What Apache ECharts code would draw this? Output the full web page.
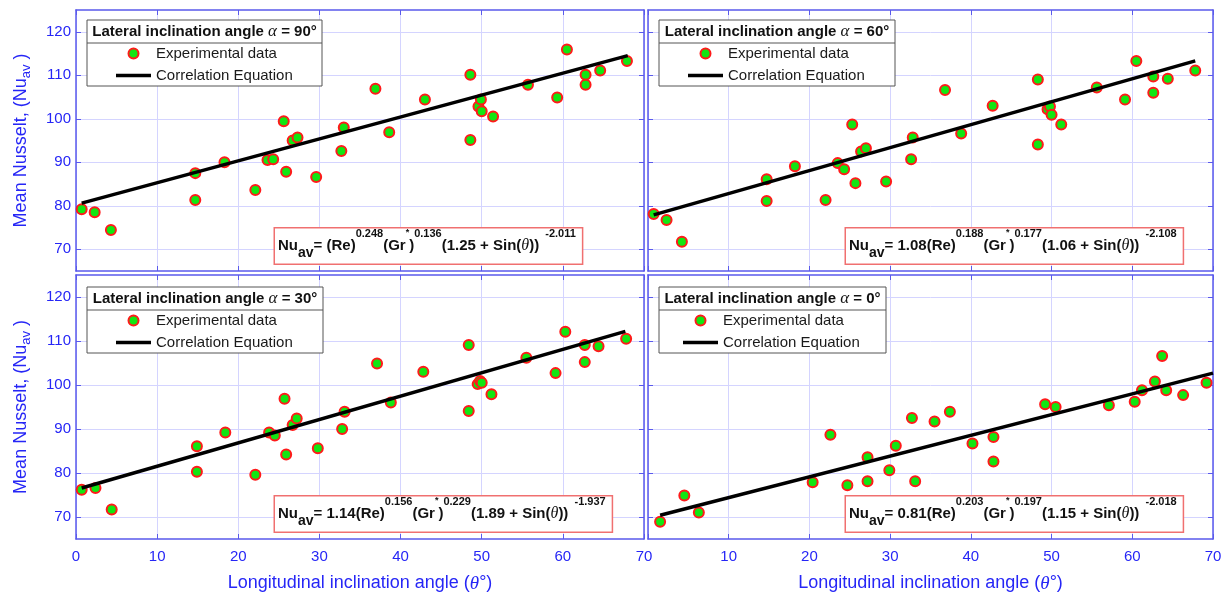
<!DOCTYPE html>
<html><head><meta charset="utf-8">
<script src="https://cdn.jsdelivr.net/npm/echarts@6/dist/echarts.min.js"></script>
<style>html,body{margin:0;padding:0;background:#fff}#c{width:1226px;height:596px}</style>
</head><body><div id="c"></div>
<script>
// ---------- data ----------
const xTicks = [0, 10, 20, 30, 40, 50, 60, 70];
const yTicks = [70, 80, 90, 100, 110, 120];

const exp90 = [[0.7,79.2],[2.3,78.5],[4.3,74.4],[14.7,87.5],[14.7,81.3],[18.3,90.0],[22.1,83.6],[23.6,90.5],[24.3,90.7],[25.6,99.4],[25.9,87.8],[26.7,95.0],[27.3,95.7],[29.6,86.6],[32.7,92.6],[33.0,98.0],[36.9,106.9],[38.6,96.9],[43.0,104.4],[48.6,110.1],[48.6,95.1],[49.6,102.8],[49.9,104.4],[50.0,101.7],[51.4,100.5],[55.7,107.8],[59.3,104.9],[60.5,115.9],[62.8,110.1],[62.8,107.8],[64.6,111.1],[67.9,113.3]];
const fit90 = [[0.7,80.6],[68.0,114.5]];

const exp60 = [[0.7,78.1],[2.3,76.7],[4.2,71.7],[14.7,86.1],[14.7,81.1],[18.2,89.1],[22.0,81.3],[23.5,89.8],[24.3,88.4],[25.3,98.7],[25.7,85.2],[26.4,92.5],[27.0,93.2],[29.5,85.6],[32.6,90.7],[32.8,95.7],[36.8,106.6],[38.8,96.6],[42.7,103.0],[48.3,109.0],[48.3,94.1],[49.5,102.2],[49.8,102.8],[50.0,100.9],[51.2,98.7],[55.6,107.2],[59.1,104.4],[60.5,113.3],[62.6,109.7],[62.6,106.0],[64.4,109.2],[67.8,111.1]];
const fit60 = [[0.7,77.9],[67.8,113.3]];

const exp30 = [[0.7,76.2],[2.4,76.6],[4.4,71.7],[14.9,86.1],[14.9,80.3],[18.4,89.2],[22.1,79.6],[23.8,89.2],[24.5,88.5],[25.7,96.9],[25.9,84.2],[26.7,90.9],[27.2,92.4],[29.8,85.6],[32.8,90.0],[33.1,93.9],[37.1,104.9],[38.8,96.0],[42.8,103.0],[48.4,109.1],[48.4,94.1],[49.5,100.2],[49.8,100.9],[50.0,100.5],[51.2,97.9],[55.5,106.2],[59.1,102.7],[60.3,112.1],[62.7,109.1],[62.7,105.2],[64.4,108.8],[67.8,110.5]];
const fit30 = [[0.7,76.6],[67.7,112.2]];

const exp0 = [[1.5,68.9],[4.5,74.9],[6.3,71.0],[20.4,77.9],[22.6,88.7],[24.7,77.2],[27.2,83.6],[27.2,78.1],[29.9,80.6],[30.7,86.2],[32.7,92.5],[33.1,78.1],[35.5,91.7],[37.4,93.9],[40.2,86.7],[42.8,88.2],[42.8,82.6],[49.2,95.6],[50.5,95.0],[57.1,95.4],[60.3,96.2],[61.2,98.8],[62.8,100.8],[63.7,106.6],[64.2,98.8],[66.3,97.7],[69.2,100.5]];
const fit0 = [[1.5,70.4],[70.0,102.7]];

const alphaLabels = ['90°', '60°', '30°', '0°'];
const eqCoef = ['', '1.08', '1.14', '0.81'];
const eqReExp = ['0.248', '0.188', '0.156', '0.203'];
const eqGrExp = ['0.136', '0.177', '0.229', '0.197'];
const eqConst = ['1.25', '1.06', '1.89', '1.15'];
const eqOuterExp = ['-2.011', '-2.108', '-1.937', '-2.018'];
const seriesNames = ['Experimental data', 'Correlation Equation'];
const xTitle = 'Longitudinal inclination angle';
const yTitle = 'Mean Nusselt, (Nu';

// ---------- layout / style ----------
const expSets = [exp90, exp60, exp30, exp0];
const fitSets = [fit90, fit60, fit30, fit0];
const F = "'Liberation Sans', Arial, Helvetica, sans-serif";
const SERIF = "'Liberation Serif', 'DejaVu Serif', serif";
const AX = '#5a5aec';
const LBL = '#2626f6';
const GRIDC = '#d4d4ff';
const grids = [
  {left: 76, top: 10, width: 568, height: 261},
  {left: 648, top: 10, width: 565, height: 261},
  {left: 76, top: 275, width: 568, height: 264},
  {left: 648, top: 275, width: 565, height: 264}
];
const legBox = [
  {x: 87, y: 20, w: 235, h: 66, sep: 43},
  {x: 659, y: 20, w: 236, h: 66, sep: 43},
  {x: 87, y: 287, w: 236, h: 66, sep: 310},
  {x: 659, y: 287, w: 227, h: 66, sep: 310}
];
const legItemsPos = [
  {left: 116, top: 46},
  {left: 688, top: 46},
  {left: 116, top: 313},
  {left: 683, top: 313}
];
const eqPos = [
  {x: 275, y: 246}, {x: 846, y: 246}, {x: 275, y: 514}, {x: 846, y: 514}
];

const xAxes = [], yAxes = [], series = [], legends = [], graphics = [];

for (let p = 0; p < 4; p++) {
  const bottom = p >= 2, left = (p % 2 === 0);
  xAxes.push({
    type: 'value', gridIndex: p, min: 0, max: 70, interval: 10, position: 'bottom',
    axisLine: {show: true, onZero: false, lineStyle: {color: AX, width: 1.5}},
    axisTick: {show: true, inside: true, length: 5, lineStyle: {color: AX, width: 1}},
    axisLabel: {show: bottom, color: LBL, fontSize: 15, fontFamily: F, margin: 10,
      customValues: p === 3 ? xTicks.slice(1) : xTicks},
    splitLine: {show: true, lineStyle: {color: GRIDC, width: 1}},
    name: bottom ? '{n|' + xTitle + ' (}{t|θ}{n|°)}' : '',
    nameLocation: 'middle', nameGap: 35,
    nameTextStyle: {color: LBL, fontSize: 18, fontFamily: F,
      rich: {n: {color: LBL, fontSize: 18, fontFamily: F},
             t: {color: LBL, fontSize: 19, fontFamily: SERIF, fontStyle: 'italic'}}}
  });
  yAxes.push({
    type: 'value', gridIndex: p, min: 65, max: 125, position: 'left',
    axisLine: {show: true, onZero: false, lineStyle: {color: AX, width: 1.5}},
    axisTick: {show: true, inside: true, length: 5, customValues: yTicks, lineStyle: {color: AX, width: 1}},
    axisLabel: {show: left, color: LBL, fontSize: 15, fontFamily: F, margin: 5, customValues: yTicks},
    splitLine: {show: true, lineStyle: {color: GRIDC, width: 1}},
    name: left ? '{n|' + yTitle + '}{s|av}{n| )}' : '',
    nameLocation: 'middle', nameGap: 43, nameRotate: 90,
    nameTextStyle: {color: LBL, fontSize: 18, fontFamily: F,
      rich: {n: {color: LBL, fontSize: 18, fontFamily: F, lineHeight: 24},
             s: {color: LBL, fontSize: 13, fontFamily: F, lineHeight: 12, verticalAlign: 'bottom'}}}
  });
}
for (let p = 0; p < 4; p++) {
  xAxes.push({
    type: 'value', gridIndex: p, min: 0, max: 70, interval: 10, position: 'top',
    axisLine: {show: true, onZero: false, lineStyle: {color: AX, width: 1.5}},
    axisTick: {show: true, inside: true, length: 5, lineStyle: {color: AX, width: 1}},
    axisLabel: {show: false}, splitLine: {show: false}
  });
  yAxes.push({
    type: 'value', gridIndex: p, min: 65, max: 125, position: 'right',
    axisLine: {show: true, onZero: false, lineStyle: {color: AX, width: 1.5}},
    axisTick: {show: true, inside: true, length: 5, customValues: yTicks, lineStyle: {color: AX, width: 1}},
    axisLabel: {show: false}, splitLine: {show: false}
  });
}

for (let p = 0; p < 4; p++) {
  series.push({
    name: seriesNames[0], type: 'scatter', xAxisIndex: p, yAxisIndex: p,
    data: expSets[p], symbol: 'circle', symbolSize: 10, z: 3,
    itemStyle: {color: '#12e612', borderColor: '#ff1a1a', borderWidth: 2, opacity: 1}
  });
  series.push({
    name: seriesNames[1], type: 'line', xAxisIndex: p, yAxisIndex: p,
    data: fitSets[p], symbol: 'none', z: 4, color: '#000',
    lineStyle: {color: '#000', width: 3.5}
  });

  legends.push({
    data: [{name: seriesNames[0], icon: 'circle'},
           {name: seriesNames[1], icon: 'path://M0 0H35V3.5H0Z'}],
    orient: 'vertical', left: legItemsPos[p].left, top: legItemsPos[p].top,
    itemWidth: 35, itemHeight: 10, itemGap: 7, padding: 0, z: 60,
    selectedMode: false,
    textStyle: {fontSize: 15, color: '#1a1a1a', fontFamily: F}
  });

  const b = legBox[p];
  graphics.push({type: 'rect', z: 50, shape: {x: b.x, y: b.y, width: b.w, height: b.h},
    style: {fill: '#fff', stroke: '#555', lineWidth: 1}});
  graphics.push({type: 'line', z: 51, shape: {x1: b.x, y1: b.sep, x2: b.x + b.w, y2: b.sep},
    style: {stroke: '#555', lineWidth: 1}});
  graphics.push({type: 'text', z: 52, x: b.x + b.w / 2, y: (b.y + b.sep) / 2 + 0.5,
    style: {text: '{b|Lateral inclination angle }{a|α}{b| = ' + alphaLabels[p] + '}',
      align: 'center', verticalAlign: 'middle',
      rich: {b: {fontFamily: F, fontSize: 15, fontWeight: 'bold', fill: '#111', lineHeight: 20},
             a: {fontFamily: SERIF, fontSize: 17, fontStyle: 'italic', fill: '#111', lineHeight: 20}}}});

  const e = eqPos[p];
  graphics.push({type: 'text', z: 52, x: e.x, y: e.y,
    style: {
      text: '{b|Nu}{sub|av}{b|= ' + eqCoef[p] + '(Re)}{sup|' + eqReExp[p] + '}{b|(Gr}{star|*}{b|)}{sup|' +
            eqGrExp[p] + '}{b|(' + eqConst[p] + ' + Sin(}{th|θ}{b|))}{sup|  ' + eqOuterExp[p] + '}',
      align: 'left', verticalAlign: 'middle',
      backgroundColor: '#fff', borderColor: '#f07070', borderWidth: 1.5, padding: [0, 6, 0, 3],
      rich: {
        b: {fontFamily: F, fontSize: 15, fontWeight: 'bold', fill: '#111', lineHeight: 35},
        sub: {fontFamily: F, fontSize: 14, fontWeight: 'bold', fill: '#111', verticalAlign: 'middle', padding: [15, 0, 0, 0]},
        sup: {fontFamily: F, fontSize: 11, fontWeight: 'bold', fill: '#111', lineHeight: 14, verticalAlign: 'top'},
        star: {fontFamily: F, fontSize: 9, fontWeight: 'bold', fill: '#111', lineHeight: 14, verticalAlign: 'top'},
        th: {fontFamily: SERIF, fontSize: 16, fontStyle: 'italic', fill: '#111', lineHeight: 35}
      }
    }});
}

const chart = echarts.init(document.getElementById('c'), null, {renderer: 'canvas'});
chart.setOption({
  animation: false,
  backgroundColor: '#fff',
  grid: grids,
  xAxis: xAxes,
  yAxis: yAxes,
  legend: legends,
  series: series,
  graphic: {elements: graphics}
});
</script></body></html>
